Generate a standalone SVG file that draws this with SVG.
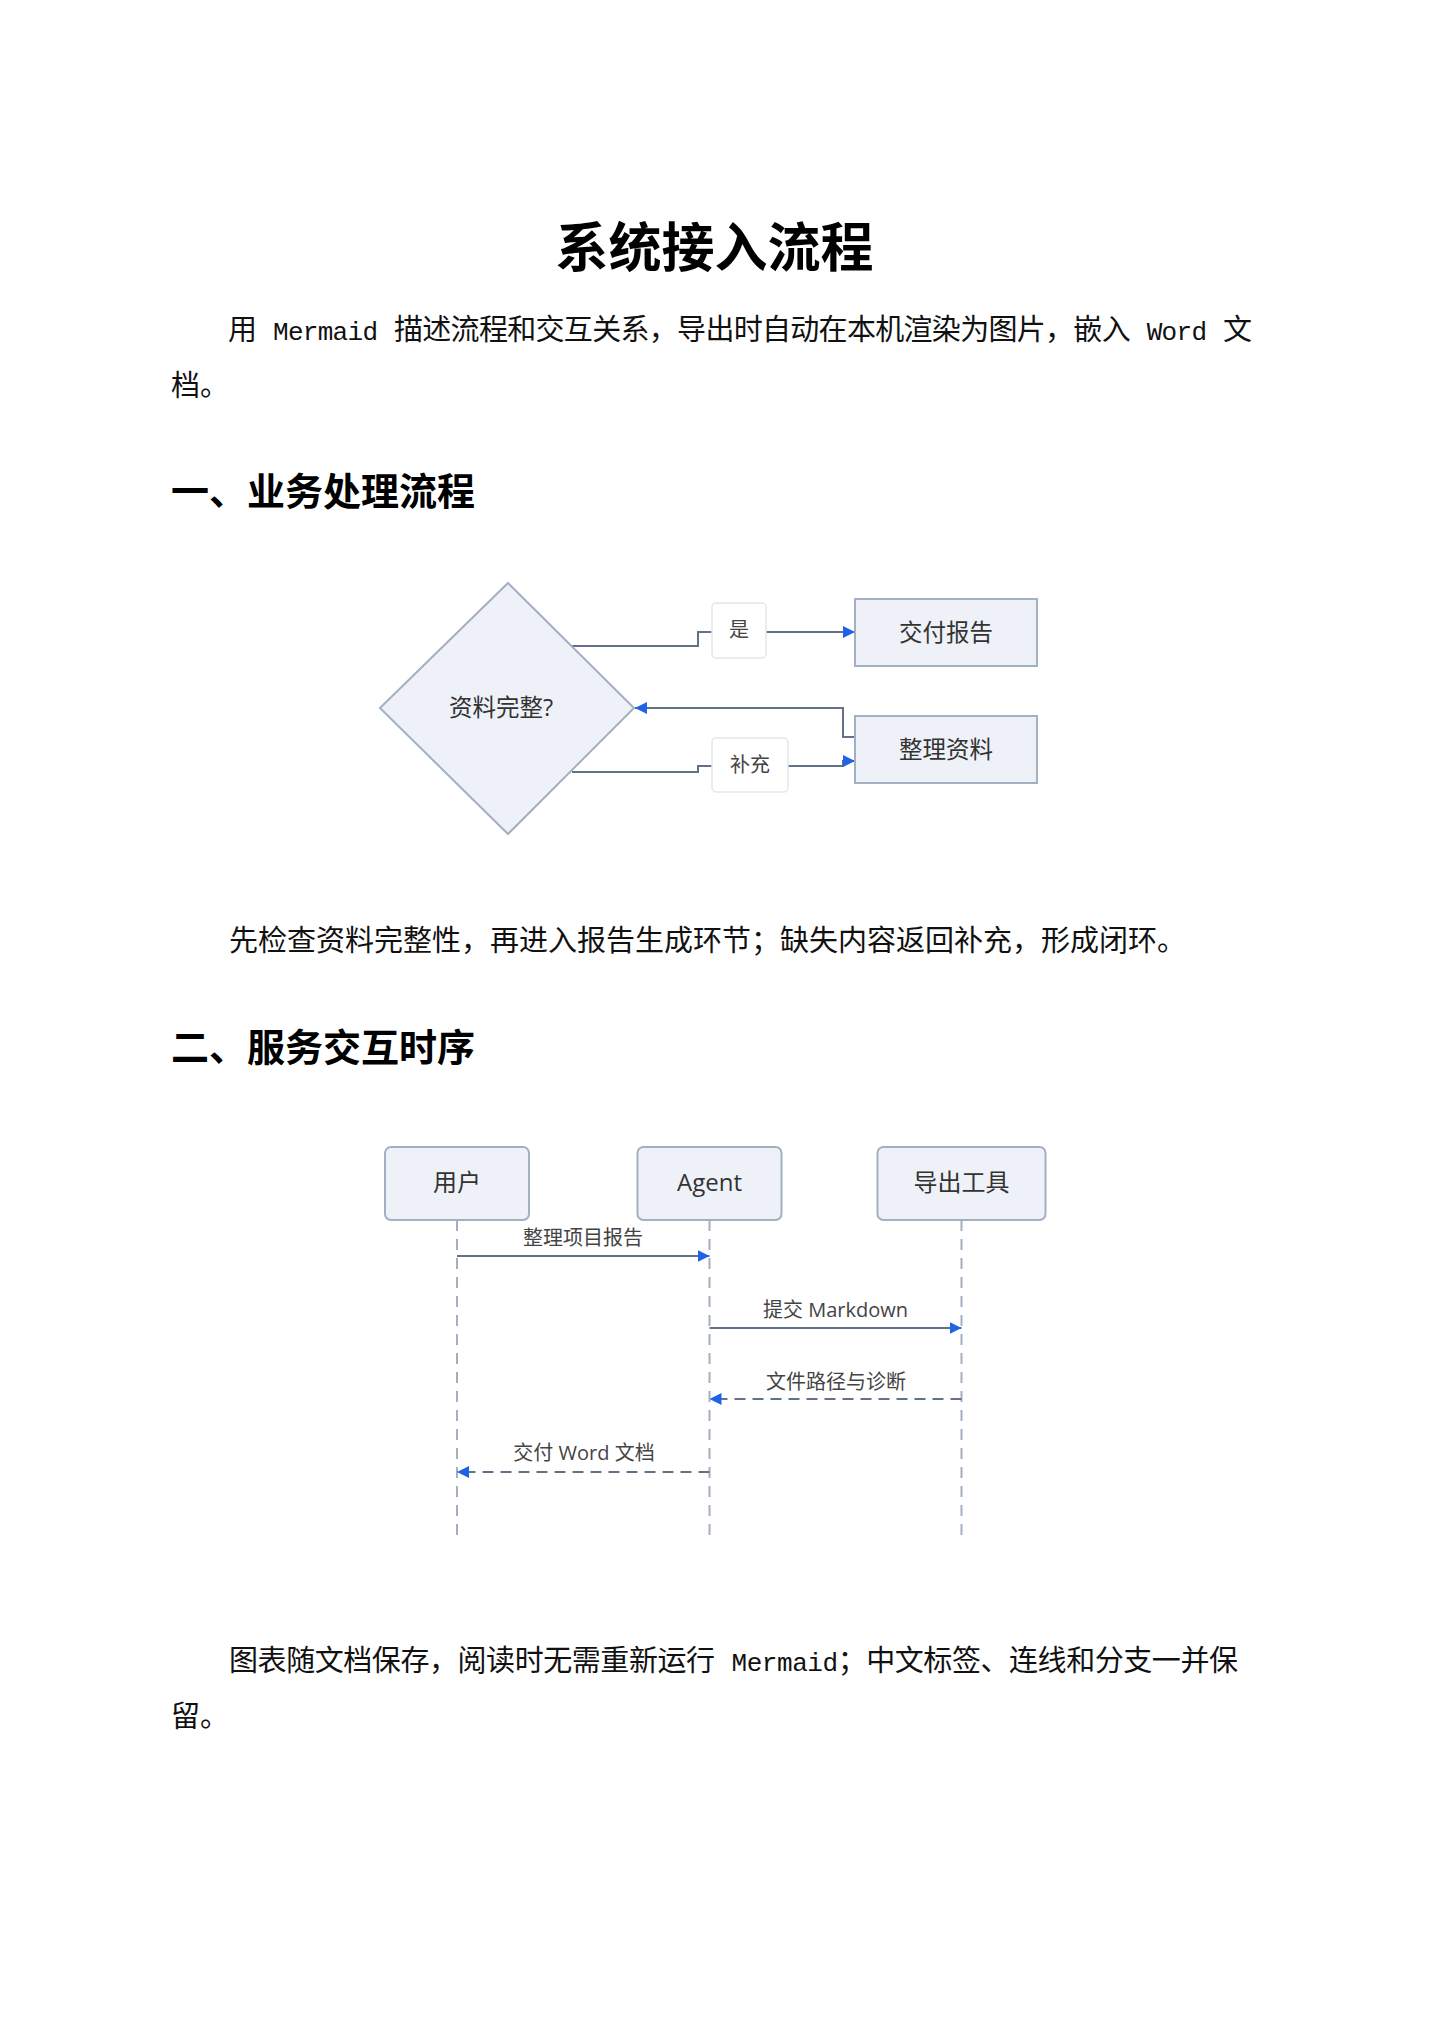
<svg xmlns="http://www.w3.org/2000/svg" width="1429" height="2021" viewBox="0 0 1429 2021">
<defs>
<style>
.title{font-family:"Noto Sans CJK SC","Liberation Sans",sans-serif;font-weight:700;font-size:53px;fill:#000}
.h{font-family:"Noto Sans CJK SC","Liberation Sans",sans-serif;font-weight:700;font-size:38px;fill:#000}
.p{font-family:"Liberation Mono","Noto Sans CJK SC",monospace;font-size:29px;fill:#111}
.lat{font-size:26px}
.node{fill:#eef2f8;stroke:#a3b0c2;stroke-width:2}
.lbl{fill:#ffffff;stroke:#e3e7ec;stroke-width:1.5}
.nt{font-family:"Open Sans","Noto Sans CJK SC",sans-serif;font-size:23.5px;fill:#333;text-anchor:middle}
.lt{font-family:"Open Sans","Noto Sans CJK SC",sans-serif;font-size:20px;fill:#444;text-anchor:middle}
.at{font-family:"Open Sans","Noto Sans CJK SC",sans-serif;font-size:24px;fill:#333;text-anchor:middle}
.mt{font-family:"Open Sans","Noto Sans CJK SC",sans-serif;font-size:20px;fill:#444;text-anchor:middle}
.edge{fill:none;stroke:#627288;stroke-width:2}
.dash{stroke-dasharray:11 7}
.life{fill:none;stroke:#a3b0c2;stroke-width:2;stroke-dasharray:11 8}
</style>
<marker id="arr" markerUnits="userSpaceOnUse" viewBox="0 0 12 12" refX="12" refY="6" markerWidth="12" markerHeight="12" orient="auto">
<path d="M0,0 L12,6 L0,12 z" fill="#1f63e6"/>
</marker>
</defs>
<rect width="1429" height="2021" fill="#ffffff"/>

<text class="title" x="714.5" y="267" text-anchor="middle">系统接入流程</text>
<text class="p" x="228" y="340" textLength="1024" lengthAdjust="spacing">用 <tspan class="lat">Mermaid</tspan> 描述流程和交互关系，导出时自动在本机渲染为图片，嵌入 <tspan class="lat">Word</tspan> 文</text>
<text class="p" x="171" y="396">档。</text>

<text class="h" x="171" y="505">一、业务处理流程</text>

<g id="flowchart">
<g id="edges">
<path class="edge" d="M571,646 H698 V632 H712"/>
<path class="edge" d="M766,632 H855" marker-end="url(#arr)"/>
<path class="edge" d="M572,772 H698 V766 H712"/>
<path class="edge" d="M788,766 H843 V761 H855" marker-end="url(#arr)"/>
<path class="edge" d="M855,737 H843 V708 H635" marker-end="url(#arr)"/>
</g>
<g id="node-check">
<polygon class="node" points="508,583 634,708 508,834 380,708"/>
<text class="nt" x="501" y="716">资料完整?</text>
</g>
<g id="node-deliver">
<rect class="node" x="855" y="599" width="182" height="67"/>
<text class="nt" x="946" y="641">交付报告</text>
</g>
<g id="node-organize">
<rect class="node" x="855" y="716" width="182" height="67"/>
<text class="nt" x="946" y="758">整理资料</text>
</g>
<g id="label-yes">
<rect class="lbl" x="712" y="603" width="54" height="55" rx="4"/>
<text class="lt" x="739" y="637">是</text>
</g>
<g id="label-supp">
<rect class="lbl" x="712" y="738" width="76" height="54" rx="4"/>
<text class="lt" x="750" y="772">补充</text>
</g>
</g>

<text class="p" x="229" y="951">先检查资料完整性，再进入报告生成环节；缺失内容返回补充，形成闭环。</text>

<text class="h" x="171" y="1061">二、服务交互时序</text>

<g id="sequence">
<g id="lifelines">
<line class="life" x1="457" y1="1220" x2="457" y2="1537"/>
<line class="life" x1="709.5" y1="1220" x2="709.5" y2="1537"/>
<line class="life" x1="961.5" y1="1220" x2="961.5" y2="1537"/>
</g>
<g id="actor-user">
<rect class="node" x="385" y="1147" width="144" height="73" rx="6"/>
<text class="at" x="457" y="1191">用户</text>
</g>
<g id="actor-agent">
<rect class="node" x="637.5" y="1147" width="144" height="73" rx="6"/>
<text class="at" x="709.5" y="1191">Agent</text>
</g>
<g id="actor-tool">
<rect class="node" x="877.5" y="1147" width="168" height="73" rx="6"/>
<text class="at" x="961.5" y="1191">导出工具</text>
</g>
<g id="messages">
<text class="mt" x="583" y="1245">整理项目报告</text>
<path class="edge" d="M457,1256 H709.5" marker-end="url(#arr)"/>
<text class="mt" x="835.5" y="1317">提交 Markdown</text>
<path class="edge" d="M709.5,1328 H961.5" marker-end="url(#arr)"/>
<text class="mt" x="836" y="1389">文件路径与诊断</text>
<path class="edge dash" d="M961.5,1399 H709.5" marker-end="url(#arr)"/>
<text class="mt" x="584" y="1460">交付 Word 文档</text>
<path class="edge dash" d="M709.5,1472 H457" marker-end="url(#arr)"/>
</g>
</g>

<text class="p" x="229" y="1671" textLength="1009" lengthAdjust="spacing">图表随文档保存，阅读时无需重新运行 <tspan class="lat">Mermaid</tspan>；中文标签、连线和分支一并保</text>
<text class="p" x="171" y="1727">留。</text>
</svg>
